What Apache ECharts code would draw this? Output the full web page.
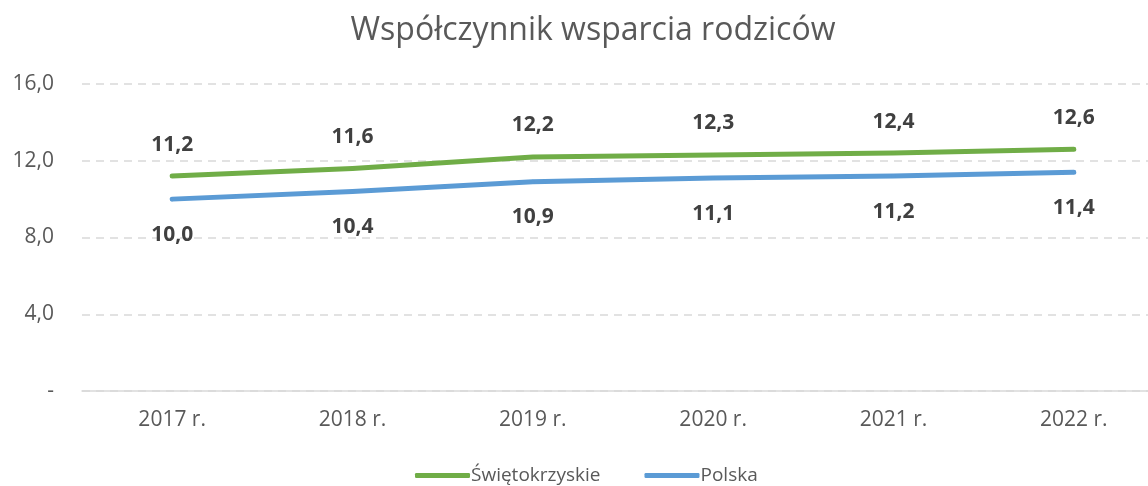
<!DOCTYPE html>
<html>
<head>
<meta charset="utf-8">
<script src="https://cdn.jsdelivr.net/npm/echarts@6/dist/echarts.min.js"></script>
<style>
  html, body { margin: 0; padding: 0; background: #fff; overflow: hidden; }
  /* the plot area runs a little past the right edge of the page */
  #chart { width: 1166px; height: 486px; }
</style>
</head>
<body>
<div id="chart"></div>
<script>
const categories = ['2017 r.', '2018 r.', '2019 r.', '2020 r.', '2021 r.', '2022 r.'];
const swietokrzyskie = [11.2, 11.6, 12.2, 12.3, 12.4, 12.6];
const polska = [10.0, 10.4, 10.9, 11.1, 11.2, 11.4];
const seriesNames = ['Świętokrzyskie', 'Polska'];

const FONT = '"Open Sans", "Noto Sans", sans-serif';
const fmt = v => v === 0 ? '-' : v.toFixed(1).replace('.', ',');

const chart = echarts.init(document.getElementById('chart'), null, { renderer: 'canvas' });

function lineSeries(name, data, color, pos, dist) {
  return {
    name: name,
    type: 'line',
    data: data,
    symbol: 'circle',
    symbolSize: 4,
    showSymbol: true,
    lineStyle: { color: color, width: 5, cap: 'round', join: 'round' },
    itemStyle: { color: color, borderWidth: 0 },
    label: {
      show: true, position: pos, distance: dist,
      fontFamily: FONT, fontSize: 21, fontWeight: 'bold', color: '#404040',
      formatter: p => fmt(p.value)
    }
  };
}

chart.setOption({
  animation: false,
  backgroundColor: '#ffffff',
  title: {
    text: 'Współczynnik wsparcia rodziców',
    left: 588,
    top: 10,
    textAlign: 'center',
    textStyle: { fontFamily: FONT, fontSize: 32, fontWeight: 'normal', color: '#595959' }
  },
  legend: {
    data: seriesNames,
    bottom: -4,
    left: 410,
    itemWidth: 55,
    itemHeight: 5,
    itemGap: 44,
    icon: 'roundRect',
    textStyle: { fontFamily: FONT, fontSize: 19, color: '#595959', padding: [0, 0, 0, -4] }
  },
  grid: { left: 82, top: 84, right: 2, bottom: 95 },
  xAxis: {
    type: 'category',
    data: categories,
    boundaryGap: true,
    axisLine: { lineStyle: { color: '#d9d9d9', width: 1.5 } },
    axisTick: { show: false },
    axisLabel: { fontFamily: FONT, fontSize: 21, color: '#595959', margin: 19 }
  },
  yAxis: {
    type: 'value',
    min: 0,
    max: 16,
    interval: 4,
    axisLine: { show: false },
    axisTick: { show: false },
    axisLabel: { fontFamily: FONT, fontSize: 21, color: '#595959', margin: 28, formatter: fmt },
    splitLine: { lineStyle: { color: '#d9d9d9', type: [8, 6], width: 1.5 } }
  },
  series: [
    lineSeries(seriesNames[0], swietokrzyskie, '#70ad47', 'top', 19),
    lineSeries(seriesNames[1], polska, '#5b9bd5', 'bottom', 23)
  ]
});
</script>
</body>
</html>
